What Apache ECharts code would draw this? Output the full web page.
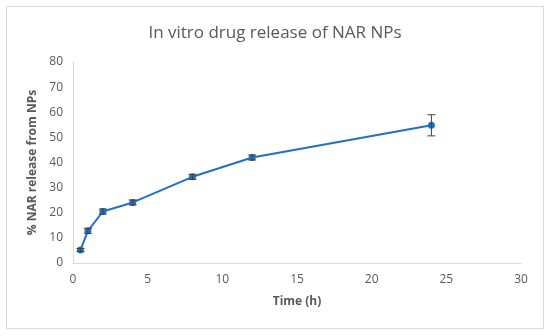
<!DOCTYPE html>
<html><head><meta charset="utf-8">
<script src="https://cdn.jsdelivr.net/npm/echarts@6/dist/echarts.min.js"></script>
<style>html,body{margin:0;padding:0;background:#fff}#c{width:550px;height:336px}</style>
</head><body><div id="c"></div>
<script>
var times = [0.5, 1, 2, 4, 8, 12, 24];
var release = [5.2, 12.8, 20.5, 24.1, 34.3, 42.0, 54.8];
var errors = [0.6, 1.0, 1.0, 1.0, 1.0, 1.0, 4.2];
var xTicks = [0, 5, 10, 15, 20, 25, 30];
var yTicks = [0, 10, 20, 30, 40, 50, 60, 70, 80];

var color = '#2170c6';
var lineData = times.map(function(t, i){ return [t, release[i]]; });
var errData = times.map(function(t, i){ return [t, release[i] - errors[i], release[i] + errors[i]]; });

var chart = echarts.init(document.getElementById('c'));
chart.setOption({
  animation: false,
  title: {
    text: 'In vitro drug release of NAR NPs',
    left: 'center', top: 20,
    textStyle: {fontFamily: 'Open Sans', fontWeight: 'normal', fontSize: 17, color: '#595959'}
  },
  graphic: [{type: 'rect', shape: {x: 6.5, y: 6.5, width: 537, height: 322}, style: {fill: 'none', stroke: '#d9d9d9', lineWidth: 1}, silent: true}],
  grid: {left: 73, right: 29, top: 62, bottom: 73},
  xAxis: {
    type: 'value', min: xTicks[0], max: xTicks[xTicks.length - 1], interval: 5,
    name: 'Time (h)', nameLocation: 'middle', nameGap: 33,
    nameTextStyle: {fontFamily: 'Open Sans', fontWeight: 'bold', fontSize: 12, color: '#595959'},
    axisLine: {lineStyle: {color: '#d9d9d9'}},
    axisTick: {show: false},
    splitLine: {show: false},
    axisLabel: {fontFamily: 'Open Sans', fontSize: 12, color: '#595959', margin: 11}
  },
  yAxis: {
    type: 'value', min: yTicks[0], max: yTicks[yTicks.length - 1], interval: 10,
    name: '% NAR release from NPs', nameLocation: 'middle', nameGap: 28,
    nameTextStyle: {fontFamily: 'Open Sans', fontWeight: 'bold', fontSize: 12, color: '#595959'},
    axisLine: {show: true, lineStyle: {color: '#d9d9d9'}},
    axisTick: {show: false},
    splitLine: {show: false},
    axisLabel: {fontFamily: 'Open Sans', fontSize: 12, color: '#595959', margin: 10}
  },
  series: [
    {
      type: 'line', data: lineData, symbol: 'circle', symbolSize: 7,
      lineStyle: {color: color, width: 2}, itemStyle: {color: color}, z: 3
    },
    {
      type: 'custom', data: errData, z: 4,
      renderItem: function(params, api){
        var x = api.value(0);
        var lo = api.coord([x, api.value(1)]);
        var hi = api.coord([x, api.value(2)]);
        var w = 4;
        var st = {stroke: '#404040', lineWidth: 1};
        return {type: 'group', children: [
          {type: 'line', shape: {x1: lo[0], y1: lo[1], x2: hi[0], y2: hi[1]}, style: st},
          {type: 'line', shape: {x1: lo[0]-w, y1: lo[1], x2: lo[0]+w, y2: lo[1]}, style: st},
          {type: 'line', shape: {x1: hi[0]-w, y1: hi[1], x2: hi[0]+w, y2: hi[1]}, style: st}
        ]};
      }
    }
  ]
});
</script></body></html>
